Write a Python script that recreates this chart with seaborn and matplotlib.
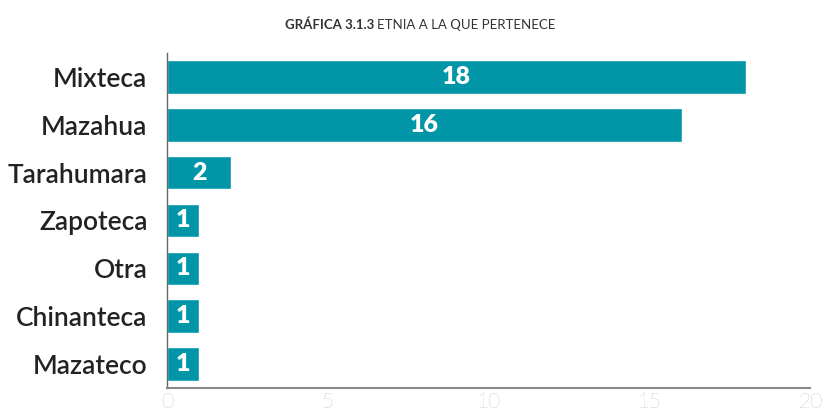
import pandas as pd
import matplotlib
matplotlib.use('Agg')
import matplotlib.pyplot as plt
import seaborn as sns

sns.set_style('white')
plt.rcParams['font.family'] = ['Lato', 'DejaVu Sans']

etnias = ['Mixteca', 'Mazahua', 'Tarahumara', 'Zapoteca', 'Otra', 'Chinanteca', 'Mazateco']
personas = [18, 16, 2, 1, 1, 1, 1]
x_ticks = [0, 5, 10, 15, 20]

df = pd.DataFrame({'etnia': etnias, 'n': personas})

fig = plt.figure(figsize=(8.26, 4.18), dpi=100)
ax = fig.add_axes([0.202, 0.072, 0.779, 0.801])

sns.barplot(data=df, x='n', y='etnia', color='#0096a8', saturation=1, width=0.7, ax=ax)

for c in ax.containers:
    ax.bar_label(c, label_type='center', color='white', fontsize=18, fontweight='heavy')

ax.set_xlim(0, 20)
ax.set_xticks(x_ticks)
ax.set_xlabel('')
ax.set_ylabel('')
ax.tick_params(axis='x', colors='#9a9a9a', labelsize=15, length=6, width=1.2, direction='in', pad=3)
ax.tick_params(axis='y', labelsize=19, colors='#222222', length=0, pad=14)
for lab in ax.get_xticklabels():
    lab.set_fontweight('light')
for lab in ax.get_yticklabels():
    lab.set_fontweight('semibold')

sns.despine(ax=ax, top=True, right=True)
ax.spines['bottom'].set_color('#888888')
ax.spines['bottom'].set_linewidth(1.5)
ax.spines['left'].set_color('#666666')
ax.spines['left'].set_linewidth(1.0)
ax.set_axisbelow(False)

fig.text(0.453, 0.94, 'GRÁFICA 3.1.3', ha='right', va='center', fontsize=9.5,
         fontweight='bold', color='#333333')
fig.text(0.456, 0.94, 'ETNIA A LA QUE PERTENECE', ha='left', va='center', fontsize=9.5,
         color='#333333')

fig.savefig('out.png', dpi=100)
